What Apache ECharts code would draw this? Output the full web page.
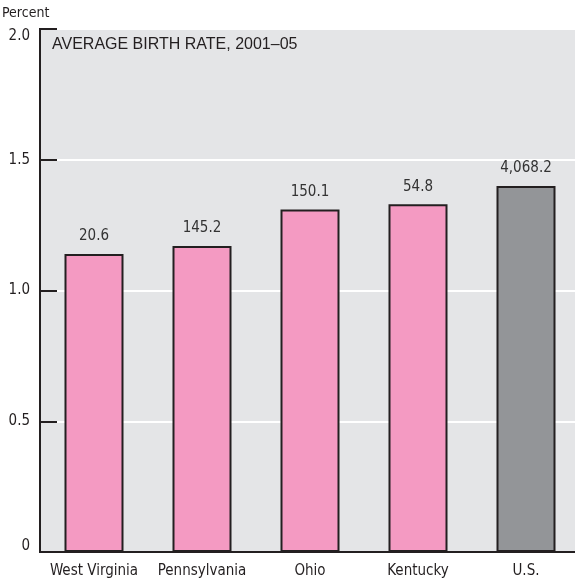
<!DOCTYPE html>
<html>
<head>
<meta charset="utf-8">
<script src="https://cdn.jsdelivr.net/npm/echarts@6/dist/echarts.min.js"></script>
<style>
  html, body { margin: 0; padding: 0; background: #ffffff; }
  #chart { width: 575px; height: 586px; }
</style>
</head>
<body>
<div id="chart"></div>
<script>
// Average birth rate by state, 2001–05 (percent); labels give births in thousands
const categories = ['West Virginia', 'Pennsylvania', 'Ohio', 'Kentucky', 'U.S.'];
const birthRate = [1.14, 1.17, 1.31, 1.33, 1.40];
const birthLabels = ['20.6', '145.2', '150.1', '54.8', '4,068.2'];
const yTicks = [0, 0.5, 1.0, 1.5, 2.0];

const narrow = "'Liberation Sans Narrow', 'DejaVu Sans Condensed', 'Arial Narrow', sans-serif";
const ink = '#231f20';
const pink = '#f49ac2';
const gray = '#939598';

const chart = echarts.init(document.getElementById('chart'), null, { renderer: 'canvas' });

const yMin = yTicks[0];
const yMax = yTicks[yTicks.length - 1];

chart.setOption({
  animation: false,
  backgroundColor: '#ffffff',
  grid: {
    left: 40, top: 29, width: 540, bottom: 34,
    show: true,
    backgroundColor: '#e4e5e7',
    borderColor: ink,
    borderWidth: 2,
    containLabel: false,
    outerBoundsMode: 'none'
  },
  graphic: [
    {
      type: 'text', left: 2, top: 6,
      style: { text: 'Percent', font: "14px " + narrow, fill: ink }
    },
    {
      type: 'text', left: 52, top: 37,
      style: { text: 'AVERAGE BIRTH RATE, 2001\u201305', font: "16px 'Liberation Sans', Arial, sans-serif", fill: ink }
    }
  ],
  xAxis: {
    type: 'category',
    data: categories,
    axisLine: { show: true, lineStyle: { color: ink, width: 2 } },
    axisTick: { show: false },
    axisLabel: { interval: 0, color: ink, fontFamily: narrow, fontSize: 15, margin: 12 },
    splitLine: { show: false }
  },
  yAxis: {
    type: 'value',
    min: yMin,
    max: yMax,
    interval: 0.5,
    axisLine: { show: true, lineStyle: { color: ink, width: 2 } },
    axisTick: { show: true, inside: true, length: 17, lineStyle: { color: ink, width: 2 } },
    axisLabel: {
      color: ink, fontFamily: narrow, fontSize: 15, margin: 10,
      formatter: v => {
        if (v === yMin) return '{low|0}';
        if (v === yMax) return '{high|' + v.toFixed(1) + '}';
        return v.toFixed(1);
      },
      rich: {
        low: { fontFamily: narrow, fontSize: 15, color: ink, padding: [0, 0, 12, 0] },
        high: { fontFamily: narrow, fontSize: 15, color: ink, padding: [14, 0, 0, 0] }
      }
    },
    splitLine: { show: true, lineStyle: { color: '#ffffff', width: 2 } }
  },
  series: [{
    type: 'bar',
    barWidth: 59,
    data: birthRate.map((v, i) => ({
      value: v,
      itemStyle: { color: categories[i] === 'U.S.' ? gray : pink }
    })),
    itemStyle: { borderColor: ink, borderWidth: 2 },
    label: {
      show: true,
      position: 'top',
      distance: 10,
      color: '#333333',
      fontFamily: narrow,
      fontSize: 15,
      formatter: p => birthLabels[p.dataIndex]
    }
  }]
});
</script>
</body>
</html>
